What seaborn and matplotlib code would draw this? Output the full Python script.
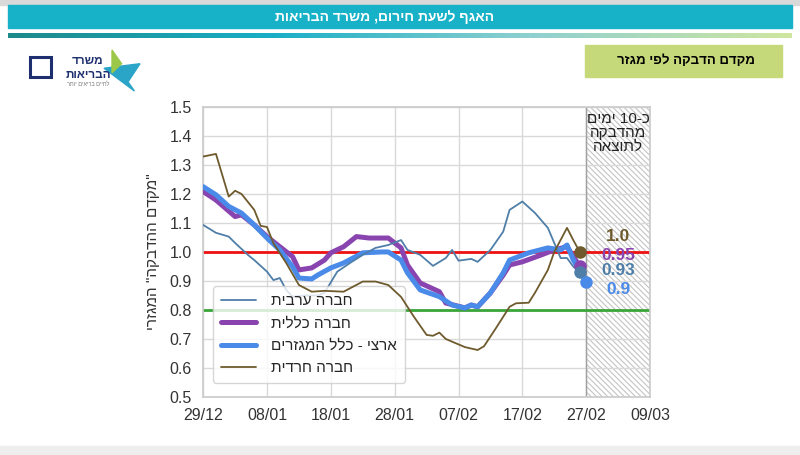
import re
import numpy as np
import pandas as pd
import matplotlib
matplotlib.use('Agg')
import matplotlib.pyplot as plt
import matplotlib.dates as mdates
from matplotlib.patches import Rectangle, Polygon
from matplotlib.colors import LinearSegmentedColormap
import seaborn as sns

# ---- data (days counted from 29/12/2020) ----
start = pd.Timestamp('2020-12-29')

arab_days = [0, 2, 4, 5, 7, 8, 10, 11, 12, 13, 14, 16, 18, 19, 21, 23, 25, 27, 29, 31, 32, 34, 36,
             38, 39, 40, 42, 43, 45, 47, 48, 50, 52, 54, 55, 56, 57, 58, 59]
arab_vals = [1.093, 1.066, 1.053, 1.031, 0.99, 0.972, 0.932, 0.903, 0.91, 0.869, 0.846, 0.85, 0.85,
             0.859, 0.932, 0.962, 0.99, 1.014, 1.024, 1.041, 1.007, 0.99, 0.952, 0.979, 1.007, 0.97,
             0.976, 0.966, 1.007, 1.07, 1.145, 1.174, 1.134, 1.083, 1.031, 0.979, 0.979, 0.949, 0.93]

general_days = [0, 2, 5, 6, 8, 10, 12, 14, 15, 17, 19, 20, 22, 24, 26, 29, 31, 32, 34, 37, 38, 41,
                42, 43, 45, 47, 48, 50, 53, 55, 57, 59]
general_vals = [1.208, 1.179, 1.122, 1.128, 1.093, 1.053, 1.018, 0.984, 0.938, 0.945, 0.972, 0.997,
                1.018, 1.053, 1.048, 1.048, 1.014, 0.955, 0.893, 0.863, 0.824, 0.807, 0.817, 0.811,
                0.859, 0.92, 0.955, 0.966, 0.99, 1.007, 1.018, 0.95]

national_days = [0, 2, 4, 6, 8, 10, 12, 14, 15, 17, 18, 20, 22, 25, 28, 29, 31, 32, 34, 37, 39, 41,
                 42, 43, 45, 47, 48, 51, 54, 56, 57, 58, 60]
national_vals = [1.225, 1.197, 1.157, 1.134, 1.093, 1.048, 1.007, 0.949, 0.91, 0.907, 0.921, 0.945,
                 0.962, 0.997, 1.0, 1.0, 0.972, 0.928, 0.869, 0.846, 0.817, 0.807, 0.817, 0.811,
                 0.859, 0.928, 0.972, 0.997, 1.014, 1.007, 1.024, 0.972, 0.898]

haredi_days = [0, 2, 4, 5, 6, 8, 9, 10, 11, 13, 15, 17, 19, 22, 25, 27, 29, 31, 33, 35, 36, 37, 38,
               41, 43, 44, 46, 48, 49, 51, 52, 54, 55, 57, 58, 59]
haredi_vals = [1.329, 1.338, 1.191, 1.211, 1.2, 1.145, 1.09, 1.086, 1.03, 0.962, 0.886, 0.863, 0.866,
               0.863, 0.898, 0.898, 0.886, 0.845, 0.777, 0.714, 0.711, 0.722, 0.70, 0.672, 0.662,
               0.675, 0.742, 0.811, 0.823, 0.825, 0.86, 0.938, 1.0, 1.083, 1.04, 1.0]

# labels next to the last points: haredi, general, arab, national (top to bottom)
end_labels = ['1.0', '0.95', '0.93', '0.9']
end_series = [3, 1, 0, 2]

names = ['חברה ערבית', 'חברה כללית', 'ארצי - כלל המגזרים', 'חברה חרדית']
colors = ['#4f7ea8', '#8a44b0', '#4a8ae8', '#6e5a2c']
widths = [1.3, 3.6, 3.6, 1.3]


def heb(s):
    # visual order for right-to-left text, keeping number runs left-to-right
    v = s[::-1]
    return re.sub(r'[0-9][0-9.]*', lambda m: m.group(0)[::-1], v)


def to_df(days, vals):
    return pd.DataFrame({'date': start + pd.to_timedelta(days, unit='D'), 'value': vals})


series = [to_df(arab_days, arab_vals), to_df(general_days, general_vals),
          to_df(national_days, national_vals), to_df(haredi_days, haredi_vals)]

sns.set_theme(style='whitegrid')
plt.rcParams['font.family'] = ['Liberation Sans', 'DejaVu Sans']
plt.rcParams['hatch.color'] = '#c4c4c4'
plt.rcParams['hatch.linewidth'] = 0.8

fig = plt.figure(figsize=(8, 4.55), dpi=100)
fig.patch.set_facecolor('white')

# ---- header ----
fig.patches.append(Rectangle((0, 0.99), 1, 0.01, transform=fig.transFigure, color='#d9d9d9', zorder=0))
fig.patches.append(Rectangle((0.01, 0.938), 0.98, 0.051, transform=fig.transFigure,
                             color='#17b1c8', zorder=1))
fig.text(0.481, 0.963, heb('האגף לשעת חירום, משרד הבריאות'), color='white', fontsize=10,
         fontweight='bold', ha='center', va='center')
gax = fig.add_axes([0.01, 0.917, 0.98, 0.011])
grad_cmap = LinearSegmentedColormap.from_list('g', ['#1e8a8a', '#19aec6', '#8fd0d0', '#cfe6a0'])
gax.imshow(np.linspace(0, 1, 256)[None, :], aspect='auto', cmap=grad_cmap)
gax.axis('off')
fig.patches.append(Rectangle((0.731, 0.831), 0.247, 0.07, transform=fig.transFigure,
                             color='#c6d97a', zorder=1))
fig.text(0.858, 0.866, heb('מקדם הדבקה לפי מגזר'), color='black', fontsize=9.5,
         fontweight='bold', ha='center', va='center')
fig.patches.append(Rectangle((0, 0), 1, 0.02, transform=fig.transFigure, color='#eeeeee', zorder=0))

# logo (approximate)
fig.text(0.11, 0.86, heb('משרד'), color='#1d2f6f', fontsize=8.5, fontweight='bold', ha='center')
fig.text(0.11, 0.828, heb('הבריאות'), color='#1d2f6f', fontsize=8.5, fontweight='bold', ha='center')
fig.text(0.11, 0.81, heb('לחיים בריאים יותר'), color='#777777', fontsize=4, ha='center')
fig.patches.append(Polygon([[0.13, 0.85], [0.175, 0.86], [0.16, 0.82], [0.168, 0.80]],
                           closed=True, transform=fig.transFigure, color='#2aa5c8', zorder=2))
fig.patches.append(Polygon([[0.14, 0.89], [0.152, 0.86], [0.14, 0.84]], closed=True,
                           transform=fig.transFigure, color='#9cc84a', zorder=2))
fig.patches.append(Rectangle((0.038, 0.83), 0.026, 0.045, transform=fig.transFigure,
                             facecolor='none', edgecolor='#1d2f6f', lw=2.2, zorder=2))

# ---- chart ----
ax = fig.add_axes([0.254, 0.1275, 0.5585, 0.6375])
ax.set_facecolor('white')

x0 = start
x1 = pd.Timestamp('2021-03-09')
shade0 = pd.Timestamp('2021-02-27')
ax.axvspan(shade0, x1, facecolor='white', edgecolor='#c4c4c4', hatch='\\\\\\\\\\\\', lw=0, zorder=0.5)
ax.axvline(shade0, color='#a0a0a0', lw=1, zorder=0.6)

ax.axhline(1.0, color='#ee1111', lw=2, zorder=1)
ax.axhline(0.8, color='#3aa63a', lw=2, zorder=1)

draw_order = [1, 2, 0, 3]
for z, i in enumerate(draw_order):
    sns.lineplot(data=series[i], x='date', y='value', color=colors[i], lw=widths[i],
                 label=heb(names[i]), ax=ax, zorder=3 + z)

# end points and their labels
label_y = [1.052, 0.988, 0.935, 0.872]
for k, i in enumerate(end_series):
    last = series[i].iloc[-1]
    ax.plot(last['date'], last['value'], 'o', color=colors[i], ms=8, zorder=8)
    ax.text(pd.Timestamp('2021-03-04'), label_y[k], end_labels[k], color=colors[i], fontsize=12.5,
            fontweight='bold', ha='center', va='center', zorder=9)

ax.text(pd.Timestamp('2021-03-04'), 1.483, heb('כ-10 ימים') + '\n' + heb('מהדבקה') + '\n' + heb('לתוצאה'),
        ha='center', va='top', fontsize=11, color='#222222', linespacing=1.0, zorder=9)

ax.set_xlim(x0, x1)
ax.set_ylim(0.5, 1.5)
ax.set_yticks(np.arange(0.5, 1.51, 0.1))
ax.yaxis.set_major_formatter(matplotlib.ticker.FormatStrFormatter('%.1f'))
ax.set_xticks(pd.date_range(x0, x1, freq='10D'))
ax.xaxis.set_major_formatter(mdates.DateFormatter('%d/%m'))
ax.tick_params(axis='both', labelsize=11.5, colors='#333333', pad=2)
ax.set_xlabel('')
ax.set_ylabel(heb('"מקדם ההדבקה" המגזרי'), fontsize=11, color='#333333', labelpad=7)
ax.grid(color='#d9d9d9', lw=1)
for sp in ax.spines.values():
    sp.set_color('#cccccc')

handles, labels = ax.get_legend_handles_labels()
order = [labels.index(heb(n)) for n in names]
ax.legend([handles[k] for k in order], [labels[k] for k in order], loc='lower left',
          bbox_to_anchor=(0.005, 0.022), fontsize=11, framealpha=0.8, handlelength=2.3,
          handletextpad=1.0, labelspacing=0.55, borderpad=0.5)

fig.savefig('out.png', dpi=100, facecolor='white')
